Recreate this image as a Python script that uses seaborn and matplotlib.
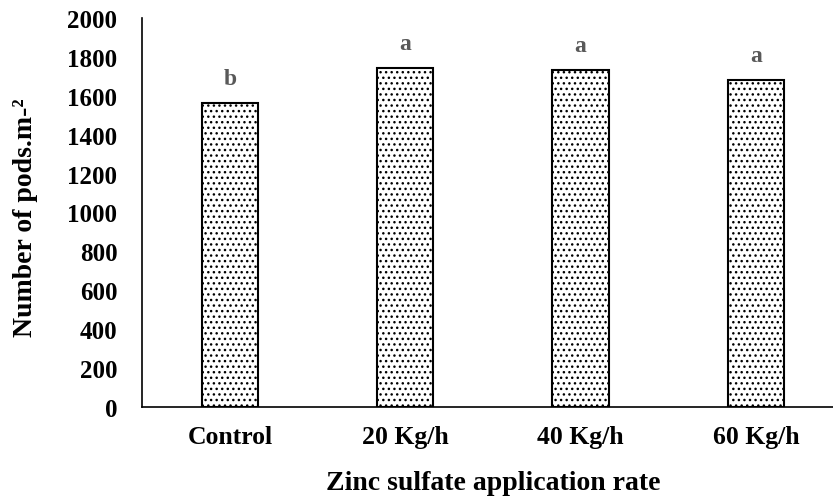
import matplotlib
matplotlib.use("Agg")
import matplotlib.pyplot as plt
import seaborn as sns
import pandas as pd

# Pod counts per zinc sulfate treatment
categories = ["Control", "20 Kg/h", "40 Kg/h", "60 Kg/h"]
pods = [1565, 1741, 1732, 1681]
letters = ["b", "a", "a", "a"]
y_ticks = list(range(0, 2001, 200))

sns.set_theme(style="white")
plt.rcParams["font.family"] = ["Liberation Serif", "DejaVu Serif"]
plt.rcParams["font.weight"] = "bold"
plt.rcParams["text.color"] = "black"
plt.rcParams["axes.labelcolor"] = "black"
plt.rcParams["xtick.color"] = "black"
plt.rcParams["ytick.color"] = "black"
plt.rcParams["hatch.linewidth"] = 1.0
plt.rcParams["hatch.color"] = "black"

df = pd.DataFrame({"rate": categories, "pods": pods})

fig = plt.figure(figsize=(8.33, 5.02), dpi=100)
ax = fig.add_axes([0.1708, 0.1873, 0.8418, 0.775])

sns.barplot(data=df, x="rate", y="pods", color="white", edgecolor="black",
            linewidth=1.5, width=0.32, ax=ax)
for p in ax.patches:
    p.set_hatch("...")
    p.set_facecolor("white")
    p.set_edgecolor("black")

for i, (v, t) in enumerate(zip(pods, letters)):
    ax.annotate(t, xy=(i, v), xytext=(0, 10), textcoords="offset points",
                ha="center", va="bottom", fontsize=17, fontweight="bold",
                color="#595959")

ax.set_xlim(-0.5, 3.5)
ax.set_ylim(0, 2000)
ax.set_yticks(y_ticks)
ax.set_yticklabels([str(t) for t in y_ticks], fontsize=18, fontweight="bold")
ax.set_xticks(range(len(categories)))
ax.set_xticklabels(categories, fontsize=18.5, fontweight="bold")
ax.tick_params(axis="y", length=0, pad=18)
ax.tick_params(axis="x", length=0, pad=13)

ax.set_xlabel("Zinc sulfate application rate", fontsize=20, fontweight="bold",
              labelpad=16)
ax.set_ylabel("Number of pods.m-²", fontsize=20, fontweight="bold")
ax.yaxis.set_label_coords(-0.149, 0.49)

for s in ["top", "right"]:
    ax.spines[s].set_visible(False)
for s in ["left", "bottom"]:
    ax.spines[s].set_color("black")
    ax.spines[s].set_linewidth(1.2)

fig.savefig("out.png", dpi=100)
